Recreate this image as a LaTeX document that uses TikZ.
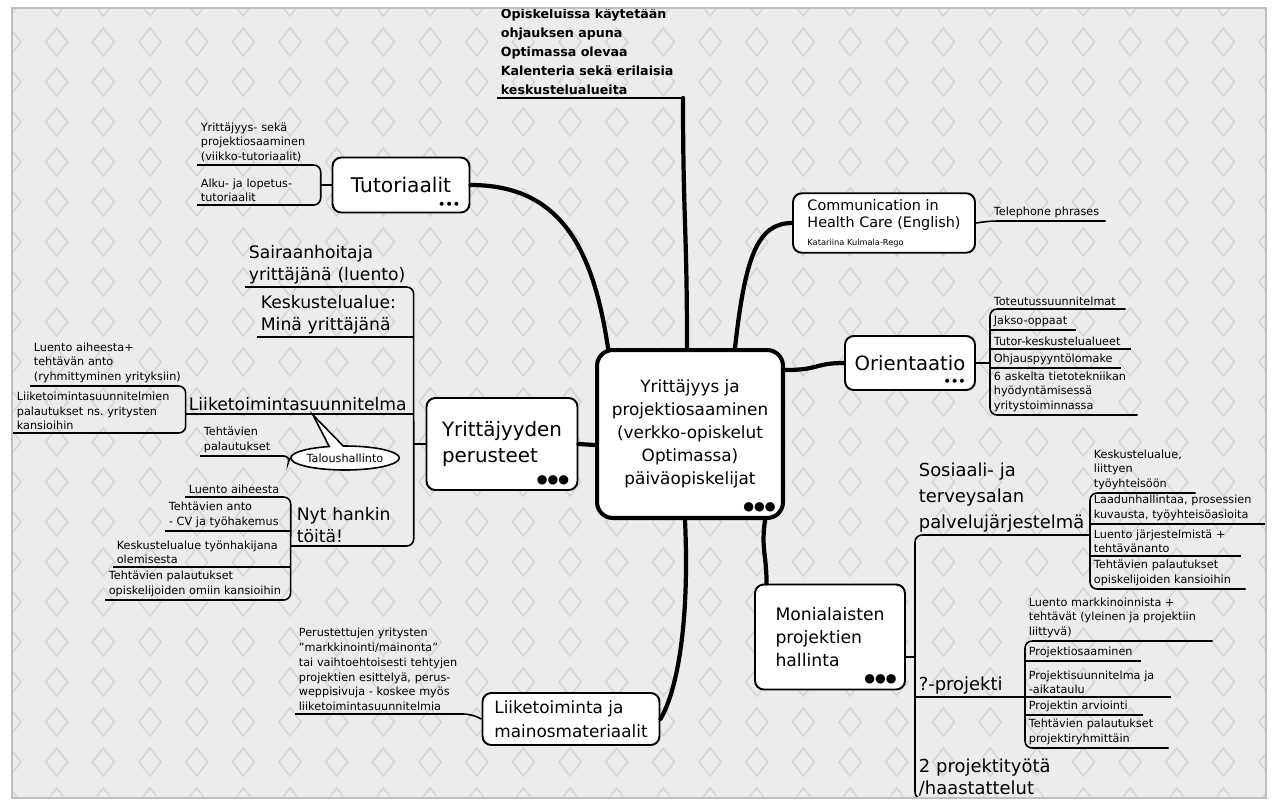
\documentclass[tikz,border=0pt]{standalone}
\usepackage{fontspec}
\setmainfont{DejaVu Sans}
\usetikzlibrary{shapes.geometric,shapes.callouts,positioning}
\definecolor{paper}{RGB}{236,236,236}
\definecolor{diamondline}{RGB}{214,214,214}
\begin{document}
\begin{tikzpicture}[x=0.02cm, y=-0.02cm,
	hub/.style={rectangle, rounded corners=9pt, draw=black, line width=2.3pt, fill=white, align=center, minimum width=3.72cm, minimum height=3.36cm, font=\fontsize{9.6}{13}\selectfont},
	topic/.style={rectangle, rounded corners=5pt, draw=black, line width=1.1pt, fill=white, align=left, font=\fontsize{11.5}{14.5}\selectfont},
	sub/.style={anchor=south west, align=left, inner xsep=2pt, inner ysep=1.5pt, font=\fontsize{9.8}{12.5}\selectfont},
	leaf/.style={sub, font=\fontsize{6.4}{8.4}\selectfont},
	branch/.style={line width=2.4pt, line cap=round},
	bracket/.style={line width=0.9pt, rounded corners=4pt},
	dots/.style={inner sep=0pt, font=\bfseries\fontsize{6.5}{6.5}\selectfont},
	bigdots/.style={inner sep=0pt, font=\fontsize{7}{7}\selectfont}]

\useasboundingbox (0,0) rectangle (1274,799);
\fill[white] (0,0) rectangle (1274,799);
\begin{scope}
\clip (12,8) rectangle (1266,798);
\fill[paper] (12,8) rectangle (1266,798);
\foreach \i in {0,...,27}
	\foreach \j in {0,...,20}
		\draw[diamondline, line width=0.9pt] ({10+46.67*\i},{2+40*\j}) +(0,-14) -- +(11,0) -- +(0,14) -- +(-11,0) -- cycle;

% main topics
\node[hub] (hub) at (690,434) {Yrittäjyys ja\\projektiosaaminen\\(verkko-opiskelut\\Optimassa)\\päiväopiskelijat};
\node[bigdots, anchor=south east] (hub-dots) at ([shift={(-0.18cm,0.15cm)}]hub.south east) {●●●};

\node[topic, minimum width=2.74cm, minimum height=1.1cm] (tut) at (401,185) {Tutoriaalit};
\node[dots, anchor=south east] (tut-dots) at ([shift={(-0.2cm,0.1cm)}]tut.south east) {•••};
\node[topic, minimum width=3.64cm, minimum height=1.06cm, font=\fontsize{8.2}{10}\selectfont] (comm) at (884,223) {Communication in\\Health Care (English)\\{\fontsize{4.7}{6}\selectfont Katariina Kulmala-Rego}};
\node[topic, minimum width=2.6cm, minimum height=1.08cm, font=\fontsize{11.2}{14.5}\selectfont] (ori) at (910,363) {Orientaatio};
\node[dots, anchor=south east] (ori-dots) at ([shift={(-0.2cm,0.1cm)}]ori.south east) {•••};
\node[topic, minimum width=3.02cm, minimum height=1.84cm, font=\fontsize{11.3}{14.5}\selectfont] (yp) at (502,444) {Yrittäjyyden\\perusteet};
\node[bigdots, anchor=south east] (yp-dots) at ([shift={(-0.18cm,0.12cm)}]yp.south east) {●●●};
\node[topic, minimum width=3.0cm, minimum height=2.1cm, font=\fontsize{9.8}{13.3}\selectfont] (mon) at (830,637) {Monialaisten\\projektien\\hallinta};
\node[bigdots, anchor=south east] (mon-dots) at ([shift={(-0.18cm,0.12cm)}]mon.south east) {●●●};
\node[topic, minimum width=3.54cm, minimum height=1.04cm, font=\fontsize{9.6}{13.5}\selectfont] (lm) at (571,719) {Liiketoiminta ja\\mainosmateriaalit};

% top note
\node[sub, font=\bfseries\fontsize{7.2}{10.8}\selectfont] (top) at (497,98) {Opiskeluissa käytetään\\ohjauksen apuna\\Optimassa olevaa\\Kalenteria sekä erilaisia\\keskustelualueita};
\draw[bracket] (top.south west) -- ++(186,0) coordinate (top-end);

% branches from the hub
\draw[branch] ([xshift=-0.06cm]hub.north) .. controls +(0,-120) and +(0,120) .. (top-end);
\draw[branch] ([xshift=-1.64cm]hub.north) .. controls +(-15,-100) and +(90,0) .. (tut.east);
\draw[branch] ([xshift=0.9cm]hub.north) .. controls +(10,-90) and +(-35,0) .. (comm.west);
\draw[branch] ([yshift=1.28cm]hub.east) .. controls +(35,0) and +(-30,0) .. (ori.west);
\draw[branch] ([yshift=-0.22cm]hub.west) -- (yp.east);
\draw[branch] ([xshift=1.5cm]hub.south) .. controls +(-4,30) and +(0,-30) .. ([xshift=0.25cm]mon.north west);
\draw[branch] ([xshift=-0.1cm]hub.south) .. controls +(5,110) and +(15,-25) .. (lm.east);

% Tutoriaalit
\node[leaf, text width=2.32cm] (tut1) at (197,165) {Yrittäjyys- sekä\\projektiosaaminen\\(viikko-tutoriaalit)};
\node[leaf, text width=2.32cm] (tut2) at (197,205) {Alku- ja lopetus-\\tutoriaalit};
\draw[bracket] (tut1.south west) -- (tut1.south east) -- (tut2.south east) -- (tut2.south west);
\draw[bracket] (tut.west) -- (tut.west -| tut2.south east);

% Communication
\node[leaf, text width=2.16cm] (tel) at (990,221) {Telephone phrases};
\draw[bracket] (comm.east) -- (tel.south west) -- (tel.south east);

% Orientaatio
\node[leaf, text width=2.56cm] (o1) at (990,309) {Toteutussuunnitelmat};
\node[leaf, text width=1.56cm] (o2) at (990,330) {Jakso-oppaat};
\node[leaf, text width=2.66cm] (o3) at (990,349) {Tutor-keskustelualueet};
\node[leaf, text width=2.46cm] (o4) at (990,368) {Ohjauspyyntölomake};
\node[leaf, text width=2.8cm] (o5) at (990,415) {6 askelta tietotekniikan\\hyödyntämisessä\\yritystoiminnassa};
\draw[bracket] (o1.south east) -- (o1.south west) -- (o5.south west) -- (o5.south east);
\foreach \n in {o2,o3,o4} \draw[bracket] (\n.south west) -- (\n.south east);
\draw[bracket] (ori.east) -- (ori.east -| o1.south west);

% Yrittajyyden perusteet
\node[sub, text width=3.22cm] (y1) at (245,287) {Sairaanhoitaja\\yrittäjänä (luento)};
\node[sub, text width=2.98cm] (y2) at (257,337) {Keskustelualue:\\Minä yrittäjänä};
\node[sub, text width=4.42cm] (y3) at (185,414) {Liiketoimintasuunnitelma};
\node[sub, text width=2.26cm] (y4) at (293,546) {Nyt hankin\\töitä!};
\draw[bracket] (y1.south west) -- (y1.south east) -- (y4.south east) -- (y4.south west);
\foreach \n in {y2,y3} \draw[bracket] (\n.south west) -- (\n.south east);
\draw[bracket] (yp.west) -- (yp.west -| y1.south east);

\node[leaf, text width=2.96cm] (l1) at (30,386) {Luento aiheesta+\\tehtävän anto\\(ryhmittyminen yrityksiin)};
\node[leaf, text width=3.30cm] (l2) at (13,433) {Liiketoimintasuunnitelmien\\palautukset ns.\ yritysten\\kansioihin};
\draw[bracket] (l1.south west) -- (l1.south east) -- (l2.south east) -- (l2.south west);

\coordinate (tal-tip) at (313,415);
\node[ellipse callout, draw, fill=white, line width=0.9pt, callout absolute pointer={(tal-tip)}, minimum width=1.88cm, minimum height=0.48cm, inner sep=0pt, font=\fontsize{6.4}{8.4}\selectfont] (tal) at (345,458) {Taloushallinto};
\node[leaf, text width=1.66cm] (tp) at (200,456) {Tehtävien\\palautukset};
\draw[bracket] (tp.south west) -- (tp.south east) -- (tal.west);

\node[leaf, text width=1.96cm] (n1) at (185,497) {Luento aiheesta};
\node[leaf, text width=2.36cm] (n2) at (165,531) {Tehtävien anto\\- CV ja työhakemus};
\node[leaf, text width=3.40cm] (n3) at (113,567) {Keskustelualue työnhakijana\\olemisesta};
\node[leaf, text width=3.56cm] (n4) at (105,600) {Tehtävien palautukset\\opiskelijoiden omiin kansioihin};
\draw[bracket] (n1.south west) -- (n1.south east) -- (n4.south east) -- (n4.south west);
\foreach \n in {n2,n3} \draw[bracket] (\n.south west) -- (\n.south east);
\draw[bracket] (y4.south west) -- (y4.south west -| n1.south east);

% Monialaisten projektien hallinta
\node[sub, text width=3.36cm, font=\fontsize{10.2}{14.6}\selectfont] (s1) at (915,535) {Sosiaali- ja\\terveysalan\\palvelujärjestelmä};
\node[sub, text width=2.06cm, font=\fontsize{10.2}{14.6}\selectfont] (s2) at (915,697) {?-projekti};
\node[sub, text width=2.86cm, font=\fontsize{10.2}{12.5}\selectfont] (s3) at (915,799) {2 projektityötä\\/haastattelut};
\draw[bracket] (s1.south east) -- (s1.south west) -- (s3.south west) -- (s3.south east);
\draw[bracket] (s2.south west) -- (s2.south east);
\draw[bracket] ([yshift=-0.4cm]mon.east) -- ([yshift=-0.4cm]mon.east -| s1.south west);

\node[leaf, text width=1.96cm] (k1) at (1090,493) {Keskustelualue,\\liittyen\\työyhteisöön};
\node[leaf, text width=3.36cm] (k2) at (1090,524) {Laadunhallintaa, prosessien\\kuvausta, työyhteisöasioita};
\node[leaf, text width=2.86cm] (k3) at (1090,556) {Luento järjestelmistä +\\tehtävänanto};
\node[leaf, text width=2.96cm] (k4) at (1090,589) {Tehtävien palautukset\\opiskelijoiden kansioihin};
\draw[bracket] (k1.south east) -- (k1.south west) -- (k4.south west) -- (k4.south east);
\foreach \n in {k2,k3} \draw[bracket] (\n.south west) -- (\n.south east);

\node[leaf, text width=3.60cm] (p1) at (1025,641) {Luento markkinoinnista +\\tehtävät (yleinen ja projektiin\\liittyvä)};
\node[leaf, text width=2.16cm] (p2) at (1025,661) {Projektiosaaminen};
\node[leaf, text width=2.76cm] (p3) at (1025,697) {Projektisuunnitelma ja\\-aikataulu};
\node[leaf, text width=2.2cm] (p4) at (1025,715) {Projektin arviointi};
\node[leaf, text width=2.72cm] (p5) at (1025,748) {Tehtävien palautukset\\projektiryhmittäin};
\draw[bracket] (p1.south east) -- (p1.south west) -- (p5.south west) -- (p5.south east);
\foreach \n in {p2,p3,p4} \draw[bracket] (\n.south west) -- (\n.south east);

% Liiketoiminta ja mainosmateriaalit
\node[leaf, text width=3.36cm, font=\fontsize{6.4}{8.5}\selectfont] (lm1) at (295,714) {Perustettujen yritysten\\"markkinointi/mainonta"\\tai vaihtoehtoisesti tehtyjen\\projektien esittelyä, perus-\\weppisivuja - koskee myös\\liiketoimintasuunnitelmia};
\draw[bracket] (lm1.south west) -- (lm1.south east) -- (lm.west);
\end{scope}
\draw[gray!50, line width=0.8pt] (12,8) rectangle (1266,798);
\end{tikzpicture}
\end{document}
